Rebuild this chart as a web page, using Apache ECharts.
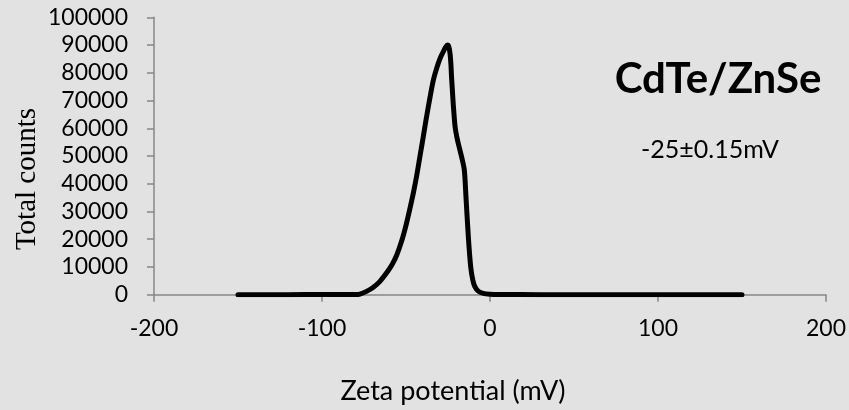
<!DOCTYPE html>
<html>
<head>
<meta charset="utf-8">
<script src="https://cdn.jsdelivr.net/npm/echarts@6/dist/echarts.min.js"></script>
<style>
  html, body { margin: 0; padding: 0; background: #e2e2e2; }
  #chart { width: 849px; height: 410px; }
</style>
</head>
<body>
<div id="chart"></div>
<script>
// Zeta potential distribution of CdTe/ZnSe quantum dots
const zeta = [-150, -120, -100, -88, -80, -77.4, -73.5, -69.4, -65.5, -61.5, -58.5, -55.5, -52.5, -50, -47.6, -45.5, -43.6, -41.6, -39.7, -38.2, -36.7, -35.2, -33.7, -32.2, -30.8, -29.3, -27.8, -26.5, -25.3, -24.5, -23.8, -23.3, -22.9, -22.4, -21.9, -20.8, -19.8, -18.9, -16.9, -15.3, -14.3, -12.9, -11.5, -10.2, -9.0, -7, -4, 0, 6, 30, 100, 150];
const counts = [0, 0, 100, 50, 50, 200, 1200, 2700, 4800, 7900, 10600, 14300, 19500, 25000, 31200, 37000, 43000, 50200, 57000, 62600, 67800, 72800, 77400, 80700, 83400, 85800, 87600, 89200, 90000, 89400, 87000, 83500, 78600, 73800, 69000, 60600, 57000, 54600, 49700, 45000, 35300, 20900, 10100, 5200, 2900, 1300, 500, 200, 100, 0, 0, 0];

const xTicks = { min: -200, max: 200, step: 100 };
const yTicks = { min: 0, max: 100000, step: 10000 };

const labelTitle = 'CdTe/ZnSe';
const labelValue = '-25±0.15mV';
const xName = 'Zeta potential (mV)';
const yName = 'Total counts';

const points = zeta.map((z, i) => [z, counts[i]]);

const chart = echarts.init(document.getElementById('chart'), null, { renderer: 'canvas' });
const axisGray = '#878787';
const tickFont = { fontFamily: 'Lato', fontSize: 23, color: '#000', formatter: v => String(v) };

chart.setOption({
  backgroundColor: '#e2e2e2',
  animation: false,
  grid: { left: 154, right: 23, top: 17.3, bottom: 115.3, containLabel: false },
  xAxis: {
    type: 'value',
    min: xTicks.min, max: xTicks.max, interval: xTicks.step,
    axisLine: { show: true, onZero: false, lineStyle: { color: axisGray, width: 1.5 } },
    axisTick: { show: true, length: 7, lineStyle: { color: axisGray, width: 1.5 } },
    axisLabel: Object.assign({ margin: 22 }, tickFont),
    splitLine: { show: false }
  },
  yAxis: {
    type: 'value',
    min: yTicks.min, max: yTicks.max, interval: yTicks.step,
    axisLine: { show: true, onZero: false, lineStyle: { color: axisGray, width: 1.5 } },
    axisTick: { show: true, length: 7, lineStyle: { color: axisGray, width: 1.5 } },
    axisLabel: Object.assign({ margin: 26 }, tickFont),
    splitLine: { show: false }
  },
  series: [{
    type: 'line',
    data: points,
    showSymbol: false,
    smooth: 0.3,
    lineStyle: { color: '#000', width: 5, cap: 'round', join: 'round' },
    z: 3
  }],
  graphic: [
    {
      type: 'text', x: 27, y: 179, rotation: Math.PI / 2,
      style: { text: yName, font: '29px "Liberation Serif"', fill: '#000', align: 'center', verticalAlign: 'middle' }
    },
    {
      type: 'text', x: 453, y: 391,
      style: { text: xName, font: '27px Lato', fill: '#000', align: 'center', verticalAlign: 'middle' }
    },
    {
      type: 'text', x: 718, y: 79,
      style: { text: labelTitle, font: 'bold 42px Lato', fill: '#000', align: 'center', verticalAlign: 'middle' }
    },
    {
      type: 'text', x: 710, y: 150,
      style: { text: labelValue, font: '25px Lato', fill: '#000', align: 'center', verticalAlign: 'middle' }
    }
  ]
});
</script>
</body>
</html>
